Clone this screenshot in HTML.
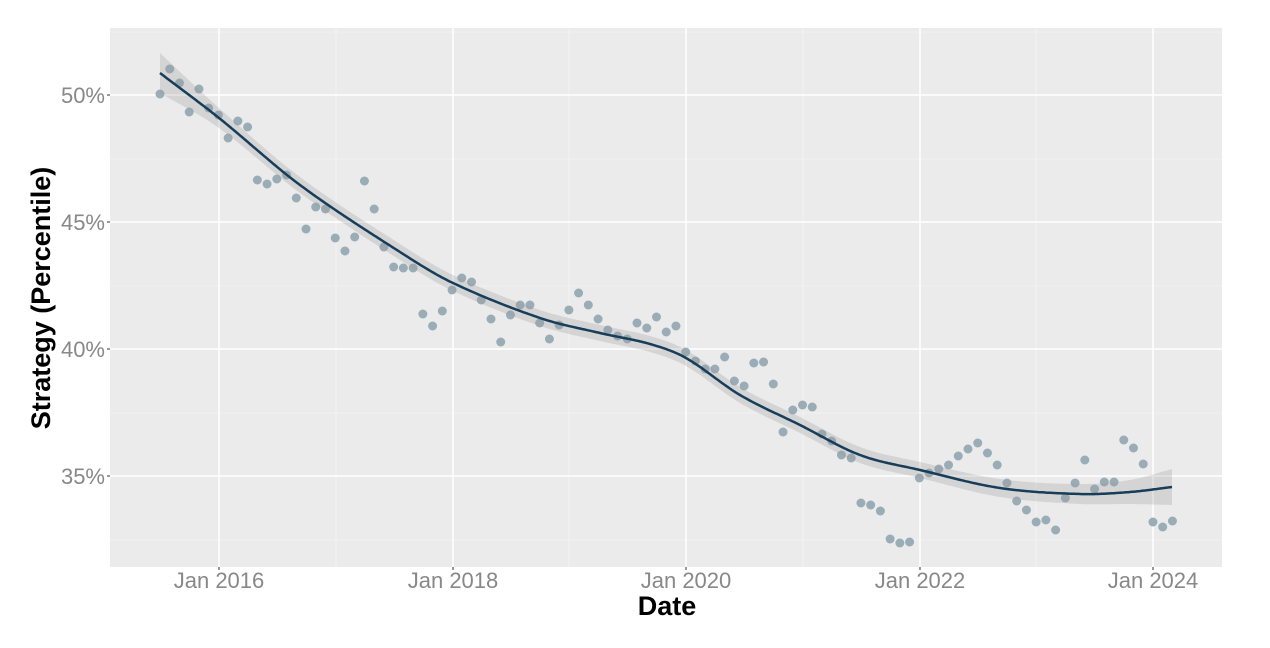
<!DOCTYPE html>
<html><head><meta charset="utf-8"><style>
html,body{margin:0;padding:0;background:#fff;width:1270px;height:648px;overflow:hidden}
text{font-family:"Liberation Sans",sans-serif}
</style></head><body>
<svg id="s" width="1270" height="648" xmlns="http://www.w3.org/2000/svg">
<rect x="110" y="28" width="1112" height="539" fill="#ebebeb"/>
<g stroke="#f5f5f5" stroke-width="0.8">
<line x1="110" x2="1222" y1="159" y2="159"/><line x1="110" x2="1222" y1="286" y2="286"/>
<line x1="110" x2="1222" y1="413" y2="413"/><line x1="110" x2="1222" y1="540" y2="540"/>
<line x1="110" x2="1222" y1="32" y2="32"/>
<line y1="28" y2="567" x1="336" x2="336"/><line y1="28" y2="567" x1="569" x2="569"/>
<line y1="28" y2="567" x1="803" x2="803"/><line y1="28" y2="567" x1="1036" x2="1036"/>
</g>
<g stroke="#fff" stroke-width="1.5">
<line x1="110" x2="1222" y1="95" y2="95"/><line x1="110" x2="1222" y1="222" y2="222"/>
<line x1="110" x2="1222" y1="349" y2="349"/><line x1="110" x2="1222" y1="476" y2="476"/>
<line y1="28" y2="567" x1="219" x2="219"/><line y1="28" y2="567" x1="453" x2="453"/>
<line y1="28" y2="567" x1="686" x2="686"/><line y1="28" y2="567" x1="920" x2="920"/>
<line y1="28" y2="567" x1="1153" x2="1153"/>
</g>
<g stroke="#333" stroke-width="1">
<line x1="107" x2="110" y1="95" y2="95"/><line x1="107" x2="110" y1="222" y2="222"/>
<line x1="107" x2="110" y1="349" y2="349"/><line x1="107" x2="110" y1="476" y2="476"/>
<line y1="567" y2="570" x1="219" x2="219"/><line y1="567" y2="570" x1="453" x2="453"/>
<line y1="567" y2="570" x1="686" x2="686"/><line y1="567" y2="570" x1="920" x2="920"/>
<line y1="567" y2="570" x1="1153" x2="1153"/>
</g>
<g id="pts" fill="#9aacb6"></g>
<path id="band" fill="#999" fill-opacity="0.28"/>
<path id="line" fill="none" stroke="#163d59" stroke-width="2.5"/>
<g fill="#888" font-size="22" text-anchor="end">
<text x="105" y="103">50%</text><text x="105" y="230">45%</text>
<text x="105" y="357">40%</text><text x="105" y="484">35%</text>
</g>
<g fill="#888" font-size="22" text-anchor="middle">
<text x="219" y="588">Jan 2016</text><text x="453" y="588">Jan 2018</text>
<text x="686" y="588">Jan 2020</text><text x="920" y="588">Jan 2022</text>
<text x="1153" y="588">Jan 2024</text>
</g>
<text x="667" y="615" font-size="27" font-weight="bold" text-anchor="middle">Date</text>
<text transform="translate(50,298) rotate(-90)" font-size="27" font-weight="bold" text-anchor="middle">Strategy (Percentile)</text>
</svg>
<script>
var ys=[94,69,83,112,89,108,115,138,121,127,180,184,179,175,198,229,207,209,238,251,237,181,209,247,267,268,268,314,326,311,290,278,282,300,319,342,315,305,305,323,339,325,310,293,305,319,330,336,339,323,328,317,332,326,352,361,369,369,357,381,386,363,362,384,432,410,405,407,434,441,455,458,503,505,511,539,543,542,478,473,469,465,456,449,443,453,465,483,501,510,522,520,530,498,483,460,489,482,482,440,448,464,522,527,521];
var g=document.getElementById('pts'),ns='http://www.w3.org/2000/svg';
ys.forEach(function(y,i){var c=document.createElementNS(ns,'circle');c.setAttribute('cx',160+i*9.735);c.setAttribute('cy',y);c.setAttribute('r',4.5);g.appendChild(c);});
var k=[[160,73,20],[219,118,10],[300,185,8],[400,252,8],[453,283,8],[540,318,8],[600,333,8],[650,344,8],[686,358,8],[740,395,8],[800,425,8],[860,455,8],[920,470,8],[1000,488,9],[1080,494,10],[1130,492,12],[1172,487,18]];
function interp(x){for(var i=0;i<k.length-1;i++){if(x<=k[i+1][0]){var a=k[i],b=k[i+1],t=(x-a[0])/(b[0]-a[0]);var p0=k[Math.max(i-1,0)],p3=k[Math.min(i+2,k.length-1)];
function cr(j){var m1=(b[j]-p0[j])/(b[0]-p0[0])*(b[0]-a[0]),m2=(p3[j]-a[j])/(p3[0]-a[0])*(b[0]-a[0]);var t2=t*t,t3=t2*t;return (2*t3-3*t2+1)*a[j]+(t3-2*t2+t)*m1+(-2*t3+3*t2)*b[j]+(t3-t2)*m2;}
return [cr(1),cr(2)];}}return [k[k.length-1][1],k[k.length-1][2]];}
var L='',U=[],D=[];for(var x=160;x<=1172;x+=2){var v=interp(x);L+=(x==160?'M':'L')+x+' '+v[0].toFixed(1);U.push(x+' '+(v[0]-v[1]).toFixed(1));D.unshift(x+' '+(v[0]+v[1]).toFixed(1));}
document.getElementById('line').setAttribute('d',L);
document.getElementById('band').setAttribute('d','M'+U.join(' L')+' L'+D.join(' L')+'Z');
</script>
</body></html>
